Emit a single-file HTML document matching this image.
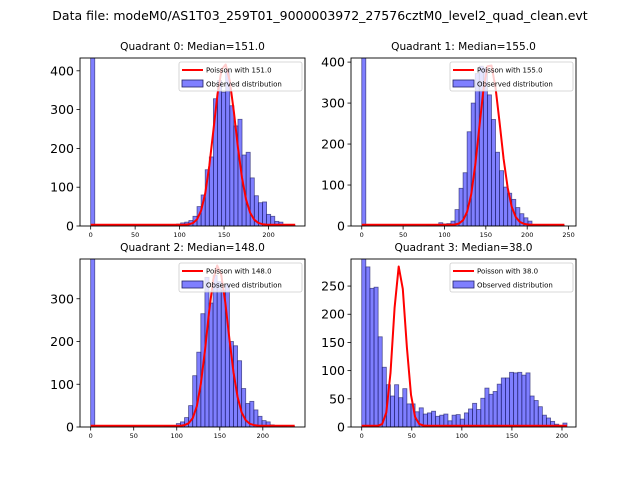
<!DOCTYPE html>
<html><head><meta charset="utf-8">
<style>
body{margin:0;background:#fff;}
svg{display:block;font-family:"DejaVu Sans","Liberation Sans",sans-serif;}
</style></head>
<body>
<svg id="fig" width="640" height="480" viewBox="0 0 640 480">
<text x="320" y="20" text-anchor="middle" font-size="12.5">Data file: modeM0/AS1T03_259T01_9000003972_27576cztM0_level2_quad_clean.evt</text>
</svg>
<script>
const titles = ["Quadrant 0: Median=151.0","Quadrant 1: Median=155.0","Quadrant 2: Median=148.0","Quadrant 3: Median=38.0"];
const medians = [151.0,155.0,148.0,38.0];
const curvePeaks = [415,395,375,283];
const binMax = [230,245,237,205];
const counts0 = [1000,0,0,0,0,0,0,0,0,0,0,0,0,0,0,0,0,1,1,2,2,5,8,10,14,25,50,80,145,178,328,375,345,400,310,258,275,183,190,124,78,60,62,30,25,12,10,3,2,1];
const counts1 = [1000,0,0,0,0,0,0,0,0,0,0,0,0,0,0,0,1,1,2,8,5,6,12,40,92,130,230,300,372,390,385,320,260,180,135,95,80,65,45,30,20,12,3,2,1,1,0,0,0,1];
const counts2 = [1000,0,0,0,0,0,0,0,0,0,0,0,0,0,0,0,0,0,3,2,2,8,12,22,50,120,175,265,350,290,355,340,320,335,200,190,155,90,55,60,40,25,15,12,5,3,1,1,0,1];
const counts3 = [320,284,246,248,160,106,75,55,75,52,68,41,41,27,34,23,25,28,19,21,23,11,21,22,14,25,32,42,31,51,69,58,63,76,87,87,97,96,97,92,96,55,47,36,21,16,10,5,2,7];
const allCounts = [counts0,counts1,counts2,counts3];
const xTicks = [[0,50,100,150,200],[0,50,100,150,200,250],[0,50,100,150,200],[0,50,100,150,200]];
const yTicks = [[0,100,200,300,400],[0,100,200,300,400],[0,100,200,300],[0,50,100,150,200,250]];

const NS="http://www.w3.org/2000/svg";
const svg=document.getElementById('fig');
const boxes=[{l:80,r:305,t:58,b:226},{l:351,r:576,t:58,b:226},{l:80,r:305,t:259,b:427},{l:351,r:576,t:259,b:427}];
const xr=[[-12,241],[-13,259],[-12.4,249],[-10.7,214]];
const yr=[433,410,393,298];
function mk(tag,attrs,parent){const e=document.createElementNS(NS,tag);for(const k in attrs)e.setAttribute(k,attrs[k]);(parent||svg).appendChild(e);return e;}
function lnFact(k){if(k<1)return 0;return k*Math.log(k)-k+0.5*Math.log(2*Math.PI*k)+1/(12*k);}
function pshape(k,mu){return Math.exp(k*Math.log(mu)-mu-lnFact(k));}

for(let q=0;q<4;q++){
  const B=boxes[q];
  const X=v=>B.l+(v-xr[q][0])/(xr[q][1]-xr[q][0])*(B.r-B.l);
  const Y=v=>B.b-v/yr[q]*(B.b-B.t);
  const g=mk('g',{});
  
  
  const cp=mk('clipPath',{id:'cp'+q},g);
  mk('rect',{x:B.l,y:B.t,width:B.r-B.l,height:B.b-B.t},cp);
  const bars=mk('g',{'clip-path':'url(#cp'+q+')'},g);
  const cnt=allCounts[q], n=cnt.length, bw=binMax[q]/n;
  for(let i=0;i<n;i++){
    if(cnt[i]<=0)continue;
    const r=mk('rect',{x:X(i*bw),y:Y(cnt[i]),width:X((i+1)*bw)-X(i*bw),height:Y(0)-Y(cnt[i]),fill:'rgba(0,0,255,0.5)',stroke:'#222266','stroke-width':0.8,'stroke-opacity':0.7},bars);
    
    
  }
  const fr=mk('rect',{x:B.l,y:B.t,width:B.r-B.l,height:B.b-B.t,fill:'none',stroke:'#000','stroke-width':0.9},g);
  
  
  // poisson curve (lifted slightly so baseline is visible like reference)
  const mu=medians[q], modeV=pshape(Math.floor(mu),mu);
  let pts=[];
  for(let i=0;i<=n;i++){const k=i*bw;pts.push(X(k).toFixed(1)+','+(Y(curvePeaks[q]*pshape(k,mu)/modeV)-1.2).toFixed(1));}
  const pl=mk('polyline',{points:pts.join(' '),fill:'none',stroke:'#ff0000','stroke-width':2,'stroke-linejoin':'round'},bars);
  
  
  xTicks[q].forEach(v=>{
    mk('line',{x1:X(v),x2:X(v),y1:B.b,y2:B.b+3.5,stroke:'#000','stroke-width':0.8},g);
    const t=mk('text',{x:X(v),y:B.b+11,'text-anchor':'middle','font-size':6.5},g);
    t.textContent=v;
    
    
  });
  yTicks[q].forEach(v=>{
    mk('line',{x1:B.l-3.5,x2:B.l,y1:Y(v),y2:Y(v),stroke:'#000','stroke-width':0.8},g);
    const t=mk('text',{x:B.l-6,y:Y(v)+4.5,'text-anchor':'end','font-size':12.5},g);
    t.textContent=v;
    
    
  });
  const tt=mk('text',{x:(B.l+B.r)/2,y:B.t-8,'text-anchor':'middle','font-size':10.6},g);
  tt.textContent=titles[q];
  
  
  const lx=B.r-126, ly=B.t+4;
  const lg=mk('g',{},g);
  
  
  mk('rect',{x:lx,y:ly,width:123,height:29,rx:2,fill:'rgba(255,255,255,0.8)',stroke:'#ccc','stroke-width':0.8},lg);
  mk('line',{x1:lx+3,x2:lx+24,y1:ly+8,y2:ly+8,stroke:'#ff0000','stroke-width':2},lg);
  const l1=mk('text',{x:lx+27,y:ly+10.5,'font-size':7},lg);
  l1.textContent='Poisson with '+medians[q].toFixed(1);
  
  
  mk('rect',{x:lx+3,y:ly+18,width:21,height:7,fill:'rgba(0,0,255,0.5)',stroke:'#222266','stroke-width':0.8},lg);
  const l2=mk('text',{x:lx+27,y:ly+24.5,'font-size':7},lg);
  l2.textContent='Observed distribution';
  
  
}
</script>
</body></html>
